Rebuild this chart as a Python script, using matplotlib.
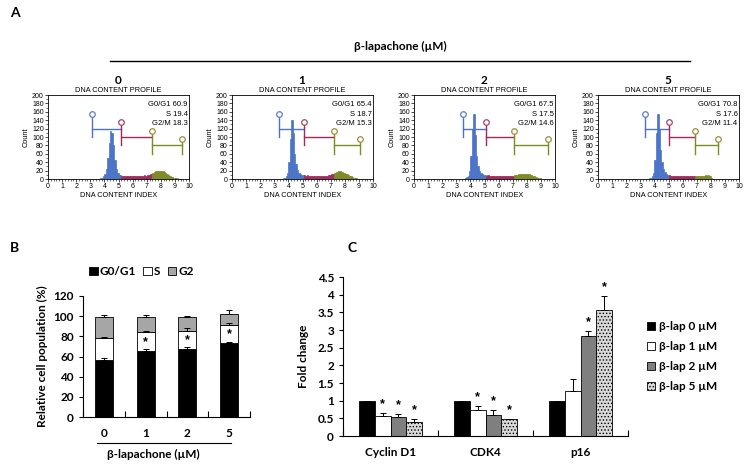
import numpy as np
import matplotlib
matplotlib.use("Agg")
import matplotlib.pyplot as plt
from matplotlib.lines import Line2D
from matplotlib.patches import Patch
from matplotlib.ticker import MultipleLocator

plt.rcParams['font.family'] = ['Liberation Sans', 'DejaVu Sans']
plt.rcParams['hatch.color'] = '#7f7f7f'
plt.rcParams['hatch.linewidth'] = 0.6
BOLD = ['Lato', 'DejaVu Sans']

# ---- panel A: flow cytometry histograms (bin width 0.1, from 3.5 to 9.5) ----
doses = ['0', '1', '2', '5']
bin_start = 3.5
hist_counts = [
    [1, 1, 2, 3, 6, 12, 25, 50, 85, 115, 110, 80, 45, 25, 15, 10, 9, 8, 7, 8,
     7, 8, 6, 7, 8, 7, 6, 8, 7, 6, 8, 7, 8, 9, 8, 9, 10, 11, 12, 14,
     16, 18, 19, 20, 20, 19, 18, 16, 14, 12, 9, 7, 5, 4, 3, 2, 2, 1, 1, 0],
    [1, 2, 3, 6, 15, 40, 95, 140, 110, 60, 35, 22, 15, 12, 10, 9, 9, 8, 9, 8,
     8, 7, 8, 7, 7, 8, 6, 7, 7, 8, 7, 8, 8, 9, 10, 11, 12, 14, 15, 17,
     18, 18, 17, 16, 15, 13, 11, 9, 7, 6, 4, 3, 2, 2, 1, 1, 1, 0, 0, 0],
    [1, 2, 4, 8, 20, 55, 120, 155, 105, 55, 30, 20, 14, 11, 10, 9, 8, 9, 7, 8,
     7, 8, 7, 6, 7, 6, 7, 8, 6, 7, 6, 7, 7, 8, 7, 8, 9, 10, 10, 11,
     12, 12, 13, 12, 12, 13, 11, 10, 9, 7, 6, 4, 3, 2, 2, 1, 1, 0, 0, 0],
    [1, 2, 3, 6, 15, 45, 110, 155, 120, 70, 40, 25, 17, 12, 10, 9, 8, 7, 8, 7,
     7, 6, 7, 6, 6, 7, 6, 7, 6, 7, 6, 6, 7, 6, 7, 7, 8, 7, 8, 8,
     8, 9, 8, 9, 8, 2, 0, 0, 0, 0, 0, 0, 0, 0, 0, 0, 0, 0, 0, 0],
]
# gate boundaries: G0/G1 start, S start, G2/M start, G2/M end
gates = [
    [3.1, 5.2, 7.4, 9.5],
    [3.3, 5.1, 7.2, 9.1],
    [3.5, 5.1, 7.1, 9.5],
    [3.3, 5.0, 6.9, 8.5],
]
g1_pct = [60.9, 65.4, 67.5, 70.8]
s_pct = [19.4, 18.7, 17.5, 17.6]
g2m_pct = [18.3, 15.3, 14.6, 11.4]

# ---- panel B: stacked cell cycle ----
b_labels = ['0', '1', '2', '5']
b_g1 = [57, 65, 67, 73]
b_s = [21, 19, 18, 18]
b_g2 = [21, 15, 14, 11]
b_g1_err = [1.5, 2, 2, 1.5]
b_s_err = [1, 1.5, 3, 2]
b_g2_err = [2, 2.5, 1.5, 4]
b_star = [False, True, True, True]

# ---- panel C: fold change ----
genes = ['Cyclin D1', 'CDK4', 'p16']
c_series = ['β-lap 0 µM', 'β-lap 1 µM', 'β-lap 2 µM', 'β-lap 5 µM']
c_vals = [
    [1.0, 1.0, 1.0],
    [0.58, 0.75, 1.28],
    [0.53, 0.60, 2.82],
    [0.41, 0.47, 3.58],
]
c_err = [
    [0.0, 0.0, 0.0],
    [0.07, 0.10, 0.34],
    [0.10, 0.13, 0.16],
    [0.07, 0.02, 0.37],
]
c_star = [
    [False, False, False],
    [True, True, False],
    [True, True, True],
    [True, True, True],
]

W, H = 750, 465
fig = plt.figure(figsize=(7.5, 4.65), dpi=100)


def px(l, t, w, h):
    return [l / W, 1 - (t + h) / H, w / W, h / H]


def fx(x):
    return x / W


def fy(y):
    return 1 - y / H


gate_cols = ['#4a74c9', '#a3285c', '#7f8a22']
circ_cols = ['#5b7fc4', '#a04870', '#9c8e3c']

# header of panel A
fig.text(fx(10), fy(13), 'A', fontsize=10, fontweight='bold', family=BOLD, va='center')
fig.text(fx(400), fy(46), 'β-lapachone (µM)', fontsize=8.5, fontweight='bold',
         family=BOLD, ha='center', va='center')
fig.add_artist(Line2D([fx(110), fx(690)], [fy(61), fy(61)], color='black', lw=1))

lefts = [48, 232, 414, 598]
for i in range(4):
    ax = fig.add_axes(px(lefts[i], 95, 141, 84))
    counts = np.array(hist_counts[i])
    centers = bin_start + 0.05 + 0.1 * np.arange(len(counts))
    g = gates[i]
    cols = [gate_cols[0] if c < g[1] else (gate_cols[1] if c < g[2] else gate_cols[2]) for c in centers]
    ax.bar(centers, counts, width=0.1, color=cols, edgecolor=cols, linewidth=0.5)
    # gate markers
    levels = [120, 100, 80]
    for k in range(3):
        a, b, y = g[k], g[k + 1], levels[k]
        ax.plot([a, b], [y, y], color=gate_cols[k], lw=1)
        ax.plot([a, a], [y - 20, y + 29], color=gate_cols[k], lw=1)
        ax.plot(a, y + 35, 'o', mfc='white', mec=circ_cols[k], ms=4, mew=0.9)
        if k == 2:
            ax.plot([b, b], [y - 20, y + 9], color=gate_cols[k], lw=1)
            ax.plot(b, y + 15, 'o', mfc='white', mec=circ_cols[k], ms=4, mew=0.9)
    ax.set_xlim(0, 10)
    ax.set_ylim(0, 200)
    ax.xaxis.set_major_locator(MultipleLocator(1))
    ax.xaxis.set_minor_locator(MultipleLocator(0.2))
    ax.yaxis.set_major_locator(MultipleLocator(20))
    ax.yaxis.set_minor_locator(MultipleLocator(10))
    ax.tick_params(labelsize=5, length=2, width=0.5, pad=1)
    ax.tick_params(which='minor', length=1.2, width=0.4)
    for sp in ax.spines.values():
        sp.set_linewidth(0.6)
    ax.set_title('DNA CONTENT PROFILE', fontsize=5.3, pad=2)
    ax.set_xlabel('DNA CONTENT INDEX', fontsize=5.3, labelpad=1)
    ax.set_ylabel('Count', fontsize=5.3, labelpad=2)
    ax.text(0.99, 0.89, 'G0/G1 %.1f' % g1_pct[i], transform=ax.transAxes, ha='right',
            va='center', fontsize=5.5)
    ax.text(0.99, 0.77, 'S %.1f' % s_pct[i], transform=ax.transAxes, ha='right',
            va='center', fontsize=5.5)
    ax.text(0.99, 0.66, 'G2/M %.1f' % g2m_pct[i], transform=ax.transAxes, ha='right',
            va='center', fontsize=5.5)
    fig.text(fx(lefts[i] + 70), fy(80), doses[i], fontsize=8.5, fontweight='bold',
             family=BOLD, ha='center', va='center')

# ---- panel B ----
fig.text(fx(10), fy(248), 'B', fontsize=10, fontweight='bold', family=BOLD, va='center')
axb = fig.add_axes(px(83, 296, 167, 121))
xb = np.arange(len(b_labels))
g1 = np.array(b_g1)
s = np.array(b_s)
g2 = np.array(b_g2)
ekw = dict(lw=0.7, capsize=2, capthick=0.7, ecolor='black')
zeros = np.zeros(len(xb))
axb.bar(xb, g1, 0.43, color='black', edgecolor='black', lw=0.6,
        yerr=[zeros, b_g1_err], error_kw=ekw)
axb.bar(xb, s, 0.43, bottom=g1, color='white', edgecolor='black', lw=0.6,
        yerr=[zeros, b_s_err], error_kw=ekw)
axb.bar(xb, g2, 0.43, bottom=g1 + s, color='#a6a6a6', edgecolor='black', lw=0.6,
        yerr=[zeros, b_g2_err], error_kw=ekw)
for i in range(len(xb)):
    if b_star[i]:
        axb.text(xb[i], g1[i] + s[i] / 2, '*', ha='center', va='center', fontsize=9,
                 fontweight='bold')
axb.set_xlim(-0.5, 3.5)
axb.set_ylim(0, 120)
axb.set_yticks(np.arange(0, 121, 20))
axb.set_xticks(xb)
axb.set_xticklabels(b_labels)
axb.set_xticks(np.arange(-0.5, 3.6, 1), minor=True)
axb.tick_params(axis='x', which='major', length=0, pad=8)
axb.tick_params(axis='x', which='minor', length=4, width=0.8, direction='in')
axb.tick_params(axis='y', length=3, width=0.8, direction='out')
for lab in axb.get_xticklabels() + axb.get_yticklabels():
    lab.set_fontweight('bold')
    lab.set_fontsize(8.5)
    lab.set_family(BOLD)
axb.spines['top'].set_visible(False)
axb.spines['right'].set_visible(False)
axb.set_ylabel('Relative cell population (%)', fontsize=8.5, fontweight='bold',
               family=BOLD, labelpad=4)
fig.add_artist(Line2D([fx(97), fx(231)], [fy(443), fy(443)], color='black', lw=0.8))
fig.text(fx(153), fy(454), 'β-lapachone (µM)', fontsize=8.5, fontweight='bold',
         family=BOLD, ha='center', va='center')
b_handles = [Patch(facecolor='black', edgecolor='black', lw=0.6),
             Patch(facecolor='white', edgecolor='black', lw=0.6),
             Patch(facecolor='#a6a6a6', edgecolor='black', lw=0.6)]
axb.legend(b_handles, ['G0/G1', 'S', 'G2'], loc='center', bbox_to_anchor=(0.35, 1.2),
           ncol=3, frameon=False, handlelength=0.7, handleheight=0.7, handletextpad=0.2,
           columnspacing=0.6, prop=dict(family=BOLD, weight='bold', size=8.5))

# ---- panel C ----
fig.text(fx(348), fy(248), 'C', fontsize=10, fontweight='bold', family=BOLD, va='center')
axc = fig.add_axes(px(343, 277, 285, 159))
xc = np.arange(len(genes))
bw = 0.165
c_face = ['black', 'white', '#7f7f7f', '#d9d9d9']
c_hatch = [None, None, None, '.....']
for j in range(4):
    pos = xc + (j - 1.5) * bw
    axc.bar(pos, c_vals[j], bw, color=c_face[j], edgecolor='black', lw=0.6,
            hatch=c_hatch[j], label=c_series[j],
            yerr=[np.zeros(3), c_err[j]], error_kw=ekw)
    for k in range(3):
        if c_star[j][k] and j > 0:
            axc.text(pos[k], c_vals[j][k] + c_err[j][k] + 0.08, '*', ha='center',
                     va='bottom', fontsize=9, fontweight='bold')
axc.set_xlim(-0.5, 2.5)
axc.set_ylim(0, 4.5)
yt = np.arange(0, 4.51, 0.5)
axc.set_yticks(yt)
axc.set_yticklabels(['%g' % v for v in yt])
axc.set_xticks(xc)
axc.set_xticklabels(genes)
axc.set_xticks(np.arange(-0.5, 2.6, 1), minor=True)
axc.tick_params(axis='x', which='major', length=0, pad=8)
axc.tick_params(axis='x', which='minor', length=4, width=0.8, direction='in')
axc.tick_params(axis='y', length=3, width=0.8)
for lab in axc.get_xticklabels() + axc.get_yticklabels():
    lab.set_fontweight('bold')
    lab.set_fontsize(8.5)
    lab.set_family(BOLD)
axc.spines['top'].set_visible(False)
axc.spines['right'].set_visible(False)
axc.set_ylabel('Fold change', fontsize=8.5, fontweight='bold', family=BOLD, labelpad=6)
axc.legend(loc='center left', bbox_to_anchor=(1.03, 0.5), frameon=False,
           handlelength=0.7, handleheight=0.7, handletextpad=0.3, labelspacing=0.75,
           prop=dict(family=BOLD, weight='bold', size=8.5))

fig.savefig('out.png', dpi=100)
